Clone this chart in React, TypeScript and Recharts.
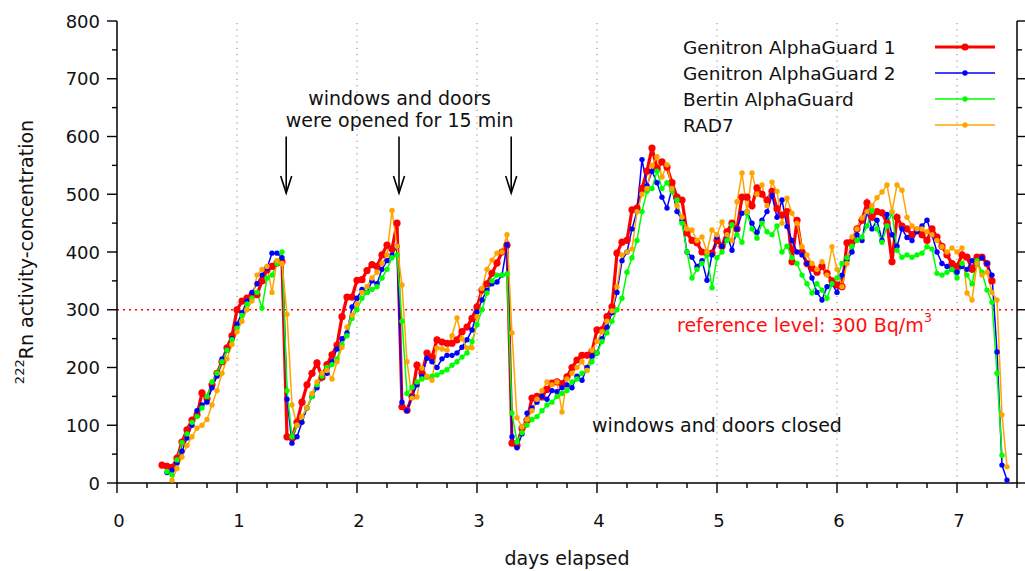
import React from 'react';
import { LineChart, Line, XAxis, YAxis, ReferenceLine, ReferenceDot, Legend, Label } from 'recharts';

// hourly measurement grid: hour 9 .. hour 178 after start
const FIRST_HOUR = 9;
const N_HOURS = 170;
const HOURS = Array.from({ length: N_HOURS }, (_, i) => FIRST_HOUR + i);

const X_TICKS = [0, 0.25, 0.5, 0.75, 1, 1.25, 1.5, 1.75, 2, 2.25, 2.5, 2.75, 3, 3.25, 3.5, 3.75, 4, 4.25, 4.5, 4.75, 5, 5.25, 5.5, 5.75, 6, 6.25, 6.5, 6.75, 7, 7.25, 7.5];
const Y_TICKS = [0, 50, 100, 150, 200, 250, 300, 350, 400, 450, 500, 550, 600, 650, 700, 750, 800];
const GRID_DAYS = [1, 2, 3, 4, 5, 6, 7];
const OPENING_DAYS = [1.41, 2.35, 3.285];

// Genitron AlphaGuard 1 (red)
const AG1_A = [31, 29, 27, 43, 71, 92, 109, 118, 156, 146, 170, 190, 210, 234, 255, 300, 315, 320, 326, 326, 350, 369, 375, 381, 383];
const AG1_B = [80, 78, 105, 140, 170, 190, 208, 183, 205, 222, 239, 288, 322, 322, 351, 352, 368, 378, 375, 395, 412, 405, 450];
const AG1_C = [132, 126, 150, 204, 190, 225, 218, 248, 244, 242, 242, 248, 262, 270, 285, 305, 334, 345, 363, 381, 400, 412];
const AG1_D = [
  69, 65, 95, 109, 147, 150, 149, 162, 173, 175,
  172, 184, 200, 213, 221, 221, 228, 265, 265, 288,
  305, 398, 417, 420, 473, 476, 510, 540, 580, 545,
  556, 547, 520, 495, 490, 433, 420, 416, 400, 398,
  398, 420, 410, 435, 450, 440, 495, 495, 480, 511,
  500, 490, 505, 475, 464, 470, 383, 455, 400, 380,
  372, 365, 375, 363, 350, 343, 340, 416, 418, 440,
  455, 485, 460, 470, 468, 450, 383, 460, 445, 440,
  430, 438, 430, 420, 440, 426, 410, 395, 380, 375,
  395, 391, 370, 391, 391, 380, 350, null, null, null,
];

// Genitron AlphaGuard 2 (blue)
const AG2_A = [null, 18, 22, 35, 55, 78, 100, 125, 135, 140, 165, 185, 215, 230, 250, 275, 295, 315, 330, 345, 360, 372, 398, 398, 390];
const AG2_B = [145, 69, 80, 105, 130, 150, 165, 185, 190, 210, 232, 250, 260, 305, 320, 335, 330, 350, 345, 370, 385, 395, 410];
const AG2_C = [140, 125, 149, 170, 185, 216, 210, 200, 215, 221, 221, 225, 235, 248, 265, 296, 317, 334, 345, 348, 360, 412];
const AG2_D = [
  80, 61, 85, 121, 130, 140, 150, 145, 160, 158,
  165, 170, 165, 185, 178, 200, 220, 225, 250, 270,
  295, 330, 385, 400, 440, 470, 560, 515, 540, 520,
  495, 476, 510, 470, 455, 400, 391, 375, 385, 351,
  395, 426, 410, 430, 403, 440, 467, 470, 450, 434,
  455, 470, 498, 460, 490, 444, 420, 400, 395, 380,
  355, 330, 317, 340, 345, 330, 360, 386, 400, 430,
  420, 470, 440, 455, 420, 465, 430, 410, 440, 425,
  420, 435, 445, 455, 430, 400, 380, 375, 370, 365,
  375, 370, 385, 380, 390, 380, 360, 227, 31, 5,
];

// Bertin AlphaGuard (green)
const BERTIN_A = [null, 20, 14, 40, 70, 85, 105, 115, 130, 150, 175, 190, 210, 230, 248, 268, 290, 310, 320, 330, 303, 355, 360, 380, 400];
const BERTIN_B = [160, 80, 100, 115, 130, 150, 170, 185, 200, 205, 215, 240, 255, 285, 300, 320, 330, 335, 340, 355, 370, 390, 395];
const BERTIN_C = [280, 155, 166, 175, 180, 183, 185, 187, 192, 196, 204, 210, 218, 225, 245, 274, 300, 329, 350, 360, 360, 362];
const BERTIN_D = [
  121, 71, 87, 100, 110, 115, 125, 135, 140, 150,
  155, 160, 175, 180, 190, 195, 210, 225, 245, 260,
  280, 300, 320, 365, 390, 420, 470, 505, 510, 540,
  510, 520, 505, 490, 450, 400, 355, 370, 380, 395,
  338, 390, 400, 420, 447, 430, 417, 467, 440, 424,
  450, 435, 430, 445, 400, 410, 390, 380, 360, 345,
  329, 345, 334, 320, 345, 355, 380, 390, 410, 420,
  426, 445, 473, 440, 417, 445, 469, 403, 391, 395,
  391, 395, 398, 409, 405, 363, 360, 365, 370, 355,
  380, 360, 345, 385, 365, 334, 313, 190, 48, null,
];

// RAD7 (orange)
const RAD7_A = [null, null, 5, 25, 45, 65, 80, 95, 100, 110, 135, 160, 190, 215, 240, 262, 280, 300, 315, 360, 370, 375, 330, 385, 380];
const RAD7_B = [292, 135, 100, 115, 130, 155, 175, 190, 195, 180, 210, 235, 270, 290, 310, 330, 340, 355, 365, 380, 395, 472, 410];
const RAD7_C = [343, 210, 147, 149, 199, 185, 178, 234, 232, 230, 255, 286, 250, 234, 234, 288, 337, 370, 386, 398, 400, 430];
const RAD7_D = [
  260, 113, 97, 110, 125, 145, 160, 175, 170, 175,
  123, 180, 190, 200, 210, 195, 230, 245, 262, 280,
  298, 340, 395, 400, 405, 470, 500, 510, 550, 565,
  530, 551, 510, 480, 460, 440, 438, 420, 426, 400,
  438, 430, 452, 430, 420, 487, 537, 470, 537, 500,
  516, 480, 521, 505, 450, 493, 467, 450, 409, 395,
  380, 370, 383, 360, 409, 370, 340, 380, 426, 440,
  459, 470, 480, 494, 504, 516, 470, 516, 507, 460,
  445, 440, 440, 435, 430, 420, 409, 400, 407, 400,
  407, 329, 317, 380, 360, 365, 330, 317, 118, 28,
];

const AG1 = [...AG1_A, ...AG1_B, ...AG1_C, ...AG1_D];
const AG2 = [...AG2_A, ...AG2_B, ...AG2_C, ...AG2_D];
const BERTIN = [...BERTIN_A, ...BERTIN_B, ...BERTIN_C, ...BERTIN_D];
const RAD7 = [...RAD7_A, ...RAD7_B, ...RAD7_C, ...RAD7_D];

const SERIES = [
  { key: 'ag1', name: 'Genitron AlphaGuard 1', color: '#ff0000', width: 3.2, r: 3.6 },
  { key: 'ag2', name: 'Genitron AlphaGuard 2', color: '#0000ff', width: 1.5, r: 2.7 },
  { key: 'bertin', name: 'Bertin AlphaGuard', color: '#00ff00', width: 1.5, r: 2.7 },
  { key: 'rad7', name: 'RAD7', color: '#ffa500', width: 1.5, r: 2.7 },
];

const data = HOURS.map((h, i) => ({
  day: h / 24,
  ag1: AG1[i] ?? null,
  ag2: AG2[i] ?? null,
  bertin: BERTIN[i] ?? null,
  rad7: RAD7[i] ?? null,
}));

const TXT = '#111';
const FS = 19;

const XTickBottom = (p: any) => {
  const { x, y, payload } = p;
  const v = payload.value;
  const major = Number.isInteger(v);
  return (
    <g>
      <line x1={x} x2={x} y1={y} y2={y + (major ? 10 : 5)} stroke="#000" strokeWidth={1.4} />
      {major && (
        <text x={x + 2} y={y + 37} textAnchor="middle" dominantBaseline="central" fontSize={18} fill={TXT}>
          {v}
        </text>
      )}
    </g>
  );
};

const XTickTop = (p: any) => {
  const { x, y, payload } = p;
  const major = Number.isInteger(payload.value);
  return <line x1={x} x2={x} y1={y} y2={y - (major ? 10 : 5)} stroke="#000" strokeWidth={1.4} />;
};

const YTickLeft = (p: any) => {
  const { x, y, payload } = p;
  const v = payload.value;
  const major = v % 100 === 0;
  return (
    <g>
      <line x1={x - (major ? 10 : 5)} x2={x} y1={y} y2={y} stroke="#000" strokeWidth={1.4} />
      {major && (
        <text x={x - 17} y={y} textAnchor="end" dominantBaseline="central" fontSize={18} fill={TXT}>
          {v}
        </text>
      )}
    </g>
  );
};

const YTickRight = (p: any) => {
  const { x, y, payload } = p;
  const major = payload.value % 100 === 0;
  return <line x1={x} x2={x + (major ? 10 : 5)} y1={y} y2={y} stroke="#000" strokeWidth={1.4} />;
};

const Arrow = (p: any) => {
  const { x1, y1, x2, y2 } = p;
  return (
    <g>
      <line x1={x1} y1={y1} x2={x2} y2={y2} stroke="#000" strokeWidth={1.6} />
      <polyline
        points={`${x2 - 5.5},${y2 - 17} ${x2},${y2} ${x2 + 5.5},${y2 - 17}`}
        fill="none"
        stroke="#000"
        strokeWidth={1.6}
      />
    </g>
  );
};

const textShape = (content: string, anchor: 'start' | 'middle' | 'end' = 'middle', color = TXT) =>
  (p: any) => (
    <text x={p.cx} y={p.cy} textAnchor={anchor} dominantBaseline="central" fontSize={FS} fill={color}>
      {content}
    </text>
  );

const refLevelShape = (p: any) => (
  <text x={p.cx} y={p.cy} dominantBaseline="central" fontSize={FS} fill="#ff1010">
    reference level: 300 Bq/m
    <tspan dy={-8} fontSize={13}>3</tspan>
  </text>
);

const renderLegend = () => (
  <svg width={345} height={110}>
    {SERIES.map((s, i) => (
      <g key={s.key}>
        <text x={13} y={17 + 26 * i} dominantBaseline="central" fontSize={18.5} fill={TXT}>
          {s.name}
        </text>
        <line x1={265} x2={325} y1={17 + 26 * i} y2={17 + 26 * i} stroke={s.color} strokeWidth={s.width} />
        <circle cx={295} cy={17 + 26 * i} r={s.r} fill={s.color} />
      </g>
    ))}
  </svg>
);

const renderXLabel = (p: any) => {
  const vb = p.viewBox || { x: 117, y: 483, width: 900 };
  return (
    <text x={vb.x + vb.width / 2} y={vb.y + 75} textAnchor="middle" dominantBaseline="central" fontSize={FS} fill={TXT}>
      days elapsed
    </text>
  );
};

const renderYLabel = (p: any) => {
  const vb = p.viewBox || { x: 0, y: 21, height: 462 };
  const cx = vb.x + 26;
  const cy = vb.y + vb.height / 2;
  return (
    <text x={cx} y={cy} transform={`rotate(-90 ${cx} ${cy})`} textAnchor="middle" dominantBaseline="central" fontSize={FS} fill={TXT}>
      <tspan dy={-7} fontSize={13}>222</tspan>
      <tspan dy={7}>Rn activity-concentration</tspan>
    </text>
  );
};

export default function App() {
  return (
    <div
      style={{
        position: 'absolute',
        left: 0,
        top: 0,
        width: 1025,
        height: 571,
        background: '#fff',
        fontFamily: '"DejaVu Sans", Verdana, sans-serif',
      }}
    >
      <LineChart width={1025} height={571} data={data} margin={{ top: 21, right: 0, bottom: 28, left: 0 }}>
        <XAxis
          dataKey="day"
          type="number"
          domain={[0, 7.5]}
          ticks={X_TICKS}
          interval={0}
          allowDataOverflow
          height={60}
          tickSize={0}
          tickMargin={0}
          tickLine={false}
          tick={<XTickBottom />}
          axisLine={{ stroke: '#000', strokeWidth: 1.5 }}
        >
          <Label content={renderXLabel} />
        </XAxis>
        <XAxis
          xAxisId="top"
          orientation="top"
          dataKey="day"
          type="number"
          domain={[0, 7.5]}
          ticks={X_TICKS}
          interval={0}
          allowDataOverflow
          height={0}
          tickSize={0}
          tickMargin={0}
          tickLine={false}
          tick={<XTickTop />}
          axisLine={{ stroke: '#000', strokeWidth: 1.5 }}
        />
        <YAxis
          type="number"
          domain={[0, 800]}
          ticks={Y_TICKS}
          interval={0}
          allowDataOverflow
          width={117}
          tickSize={0}
          tickMargin={0}
          tickLine={false}
          tick={<YTickLeft />}
          axisLine={{ stroke: '#000', strokeWidth: 1.5 }}
        >
          <Label content={renderYLabel} />
        </YAxis>
        <YAxis
          yAxisId="right"
          orientation="right"
          type="number"
          domain={[0, 800]}
          ticks={Y_TICKS}
          interval={0}
          allowDataOverflow
          width={8}
          tickSize={0}
          tickMargin={0}
          tickLine={false}
          tick={<YTickRight />}
          axisLine={{ stroke: '#000', strokeWidth: 1.5 }}
        />
        {GRID_DAYS.map((d) => (
          <ReferenceLine key={'g' + d} x={d} stroke="#999" strokeWidth={1.2} strokeDasharray="1.2 5" />
        ))}
        <ReferenceLine y={300} stroke="#ff0000" strokeWidth={1.3} strokeDasharray="2 4" />
        {SERIES.map((s) => (
          <Line
            key={s.key}
            dataKey={s.key}
            name={s.name}
            stroke={s.color}
            strokeWidth={s.width}
            dot={{ r: s.r, fill: s.color, stroke: s.color, strokeWidth: 0 }}
            activeDot={false}
            isAnimationActive={false}
            connectNulls={false}
          />
        ))}
        {OPENING_DAYS.map((d) => (
          <ReferenceLine
            key={'a' + d}
            segment={[{ x: d, y: 600 }, { x: d, y: 502 }]}
            shape={Arrow}
          />
        ))}
        <ReferenceDot x={2.355} y={666} r={0} shape={textShape('windows and doors')} />
        <ReferenceDot x={2.355} y={628} r={0} shape={textShape('were opened for 15 min')} />
        <ReferenceDot x={5.0} y={100} r={0} shape={textShape('windows and doors closed')} />
        <ReferenceDot x={4.667} y={273} r={0} shape={refLevelShape} />
        <Legend
          layout="vertical"
          align="center"
          verticalAlign="middle"
          content={renderLegend}
          wrapperStyle={{ top: 30, left: 670, width: 345, height: 110 }}
        />
      </LineChart>
    </div>
  );
}
